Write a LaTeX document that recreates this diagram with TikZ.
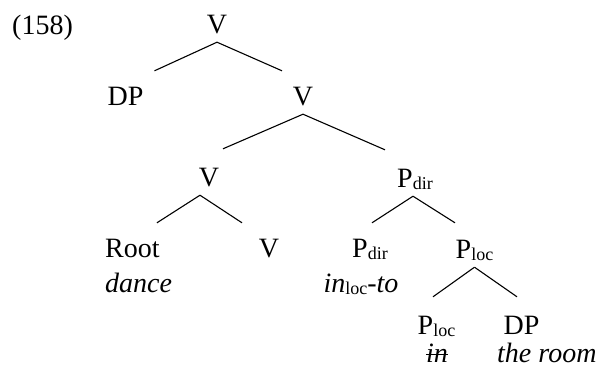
\documentclass[tikz,border=0pt]{standalone}
\usepackage{fontspec}
\setmainfont{Liberation Serif}
\usepackage{tikz}
\usetikzlibrary{positioning,calc}

\newcommand{\sub}[1]{\raisebox{-2.5pt}{\fontsize{18}{18}\selectfont #1}}
\newcommand{\struck}[1]{\setbox0\hbox{#1}\rlap{\rule[0.24em]{\wd0}{1.1pt}}\box0}

\tikzset{
  lab/.style={inner sep=0pt, text height=20pt, text depth=0pt,
    font=\fontsize{28}{34}\selectfont},
  cat/.style={lab, anchor=base},
  gloss/.style={lab, anchor=base, font=\fontsize{28}{34}\selectfont\itshape},
  branch/.style={line width=1.1pt}
}

\begin{document}
\begin{tikzpicture}[x=1pt,y=-1pt]
    \useasboundingbox (0,0) rectangle (605,368);
    \node[lab,anchor=base west] (exnum) at (12,34) {(158)};
    % categories, placed at their baselines
    \node[cat] (vtop) at (217,33) {V};
    \node[cat] (dpa) at (125.5,105) {DP};
    \node[cat] (vmid) at (303,105) {V};
    \node[cat] (vlow) at (209,186) {V};
    \node[cat] (pdir) at (415,187) {P\sub{dir}};
    \node[cat,anchor=base west] (root) at (105,257) {Root};
    \node[cat] (vleaf) at (269,257) {V};
    \node[cat] (pdirh) at (370,257) {P\sub{dir}};
    \node[cat] (ploc) at (474.5,258) {P\sub{loc}};
    \node[cat] (ploch) at (436.5,334) {P\sub{loc}};
    \node[cat] (dpb) at (521.5,334) {DP};
    % words under the leaves
    \node[gloss,anchor=base west] (dance) at (105,292) {dance};
    \node[gloss] (inloc) at (361,292) {in\upshape\sub{loc}\itshape-to};
    \node[gloss] (inword) at (437,362) {\struck{in}};
    \node[gloss,anchor=base west] (room) at (497,362) {the room};
    % branches: parent / apex shift / child / end shift x,y
    \foreach \p/\ax/\c/\dx/\dy in {vtop/0/dpa/29/14, vtop/0/vmid/-21/14,
        vmid/0/vlow/14/17, vmid/0/pdir/-30/17,
        vlow/-9/root/24.5/14, vlow/-9/vleaf/-27/14,
        pdir/-2/pdirh/2/14, pdir/-2/ploc/-19.5/15,
        ploc/0/ploch/-3.5/17, ploc/0/dpb/-4.5/17} {
      \draw[branch] ([xshift=\ax pt,yshift=-9pt]\p.south) -- ([xshift=\dx pt,yshift=\dy pt]\c.north);
    }
\end{tikzpicture}
\end{document}
